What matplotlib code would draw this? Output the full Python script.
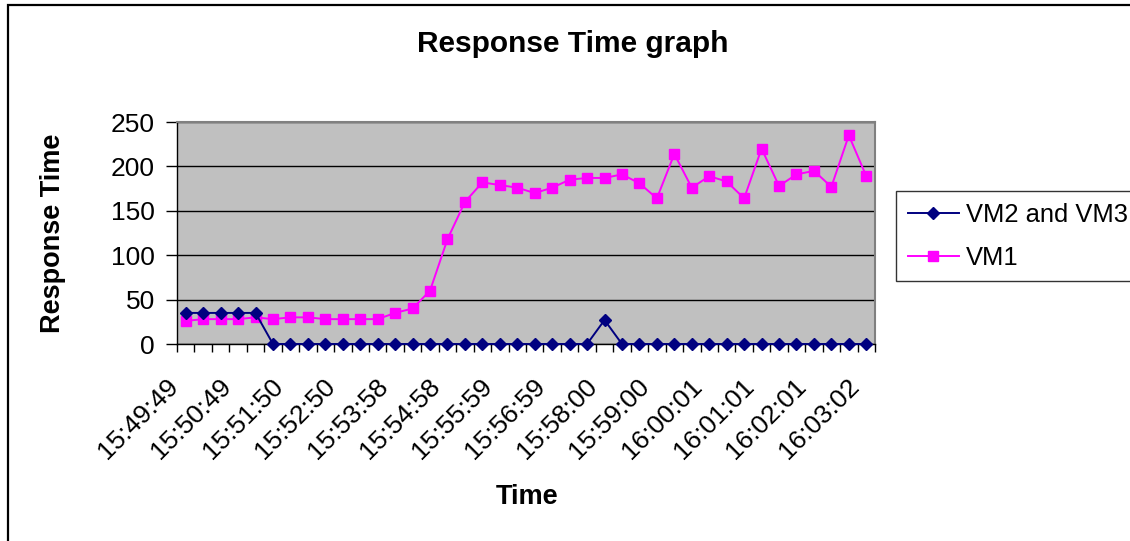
import matplotlib
matplotlib.use("Agg")
import matplotlib.pyplot as plt
from matplotlib.patches import Rectangle
from matplotlib.transforms import ScaledTranslation

plt.rcParams['font.family'] = ['Liberation Sans', 'DejaVu Sans']

# one sample roughly every 20 s, label shown on every 3rd one
tick_labels = ["15:49:49", "15:50:49", "15:51:50", "15:52:50", "15:53:58",
               "15:54:58", "15:55:59", "15:56:59", "15:58:00", "15:59:00",
               "16:00:01", "16:01:01", "16:02:01", "16:03:02"]
n_samples = 40

vm23 = [35, 35, 35, 35, 35, 0, 0, 0, 0, 0,
        0, 0, 0, 0, 0, 0, 0, 0, 0, 0,
        0, 0, 0, 0, 27, 0, 0, 0, 0, 0,
        0, 0, 0, 0, 0, 0, 0, 0, 0, 0]
vm1 = [26, 28, 28, 28, 30, 28, 30, 30, 28, 28,
       28, 28, 35, 40, 60, 118, 160, 182, 179, 176,
       170, 176, 185, 187, 187, 191, 181, 164, 214, 176,
       189, 183, 164, 220, 178, 191, 195, 177, 235, 189]

W, H = 1130, 541
fig = plt.figure(figsize=(W / 100, H / 100), dpi=100)
fig.patch.set_facecolor("white")

# chart area border (cut off on right and bottom like the screenshot)
fig.patches.append(Rectangle((8 / W, -0.05), 1.2, 1 - 5 / H + 0.05,
                             transform=fig.transFigure, fill=False,
                             edgecolor="black", linewidth=1.6))

ax = fig.add_axes([177 / W, 1 - 344 / H, 698 / W, 222 / H])
ax.set_facecolor("#C0C0C0")

x = list(range(n_samples))
ax.plot(x, vm23, color="#000080", marker="D", markersize=6.2,
        linewidth=1.4, label="VM2 and VM3", clip_on=False, zorder=4)
ax.plot(x, vm1, color="#FF00FF", marker="s", markersize=7.5,
        linewidth=1.4, label="VM1", clip_on=False, zorder=3)

ax.set_xlim(-0.5, n_samples - 0.5)
ax.set_ylim(0, 250)
ax.set_yticks([0, 50, 100, 150, 200, 250])
ax.yaxis.grid(True, color="black", linewidth=1)
ax.set_axisbelow(True)

# tick marks on category boundaries
ax.set_xticks([i - 0.5 for i in range(n_samples + 1)])
ax.set_xticklabels([])
ax.tick_params(axis="x", direction="out", length=6, width=1, color="black")
ax.tick_params(axis="y", direction="out", length=8, width=1,
               labelsize=19, pad=8)

# rotated time labels on every 3rd sample
offset = ScaledTranslation(-8 / 72, -28 / 72, fig.dpi_scale_trans)
for k, lab in enumerate(tick_labels):
    ax.text(k * 3, 0, lab, transform=ax.get_xaxis_transform() + offset,
            rotation=45, ha="right", va="center", rotation_mode="anchor",
            fontsize=19)

for side in ["top", "right"]:
    ax.spines[side].set_color("#808080")
    ax.spines[side].set_linewidth(1.5)
for side in ["left", "bottom"]:
    ax.spines[side].set_color("black")
    ax.spines[side].set_linewidth(1)

fig.text(573 / W, 1 - 44 / H, "Response Time graph", ha="center",
         va="center", fontsize=21.5, fontweight="bold")
fig.text(527 / W, 1 - 497 / H, "Time", ha="center", va="center",
         fontsize=19.5, fontweight="bold")
fig.text(53 / W, 1 - 233 / H, "Response Time", ha="center", va="center",
         rotation=90, fontsize=19.5, fontweight="bold")

leg = ax.legend(loc="upper left", bbox_to_anchor=(896 / W, 1 - 191 / H),
                bbox_transform=fig.transFigure, fontsize=18.4,
                frameon=True, fancybox=False, handlelength=2.0,
                borderpad=0.45, labelspacing=0.75, handletextpad=0.3,
                borderaxespad=0)
leg.get_frame().set_edgecolor("black")
leg.get_frame().set_linewidth(1)

fig.savefig("out.png", dpi=100)
